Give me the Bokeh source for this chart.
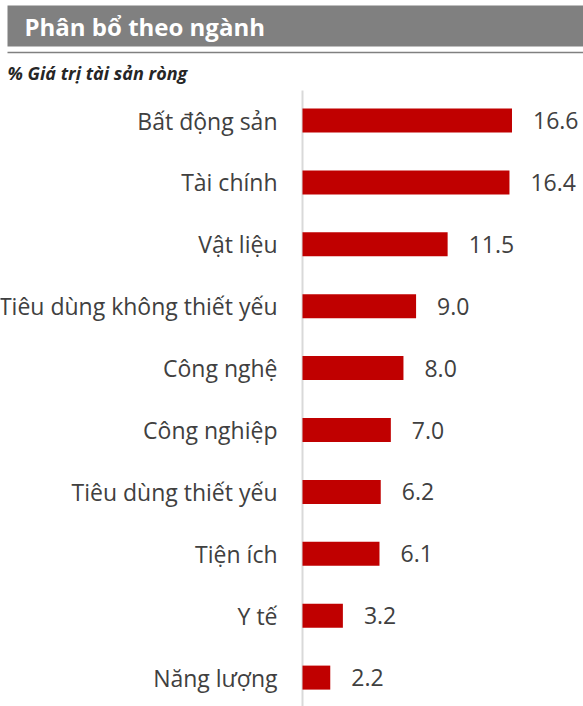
from bokeh.plotting import figure
from bokeh.models import Range1d, ColumnDataSource
from bokeh.core.properties import value
from bokeh.embed import file_html
from bokeh.resources import INLINE

categories = ["Bất động sản", "Tài chính", "Vật liệu", "Tiêu dùng không thiết yếu",
              "Công nghệ", "Công nghiệp", "Tiêu dùng thiết yếu", "Tiện ích", "Y tế", "Năng lượng"]
values = [16.6, 16.4, 11.5, 9.0, 8.0, 7.0, 6.2, 6.1, 3.2, 2.2]
title_text = "Phân bổ theo ngành"
subtitle_text = "% Giá trị tài sản ròng"

W, H = 583, 706
X0 = 302.0        # pixel of value 0
PXU = 12.62       # pixels per unit
Y0 = 120.0        # pixel center of first category
STEP = 61.9       # pixels between categories

def xd(px):
    return (px - X0) / PXU

def yd(py):
    return (py - Y0) / STEP

p = figure(width=W, height=H, output_backend="svg", toolbar_location=None,
           x_range=Range1d(xd(0), xd(W)), y_range=Range1d(yd(H), yd(0)),
           min_border=0, min_border_left=0, min_border_right=0,
           min_border_top=0, min_border_bottom=0)
p.axis.visible = False
p.grid.visible = False
p.outline_line_color = None
p.background_fill_color = "white"
p.border_fill_color = "white"

idx = list(range(len(categories)))
src = ColumnDataSource(dict(y=idx, v=values, cat=categories,
                            lab=[f"{v:.1f}" for v in values],
                            lx=[v + 21 / PXU for v in values]))

# header band
p.quad(left=[xd(7)], right=[xd(583)], top=[yd(5)], bottom=[yd(46)],
       fill_color="#808080", line_color=None)
p.text(x=[xd(24)], y=[yd(26)], text=[title_text], text_color="white",
       text_font=value("Open Sans"), text_font_style="bold", text_font_size="24px",
       text_baseline="middle", text_align="left")
# separator
p.segment(x0=[xd(7)], x1=[xd(583)], y0=[yd(52)], y1=[yd(52)],
          line_color="#808080", line_width=1.5)
p.text(x=[xd(7)], y=[yd(72)], text=[subtitle_text], text_color="#262626",
       text_font=value("Open Sans"), text_font_style="bold italic", text_font_size="18px",
       text_baseline="middle", text_align="left")

# axis line
p.segment(x0=[0], x1=[0], y0=[yd(90)], y1=[yd(706)], line_color="#d9d9d9", line_width=2)

# bars
p.hbar(y="y", left=0, right="v", height=24 / STEP, source=src,
       fill_color="#c00000", line_color=None)

# labels
p.text(x=xd(277), y="y", text="cat", source=src, text_color="#404040",
       text_font=value("Open Sans"), text_font_size="23px",
       text_baseline="middle", text_align="right")
p.text(x="lx", y="y", text="lab", source=src, text_color="#404040",
       text_font=value("Open Sans"), text_font_size="23px",
       text_baseline="middle", text_align="left")

open("out.html", "w").write(file_html(p, INLINE))
